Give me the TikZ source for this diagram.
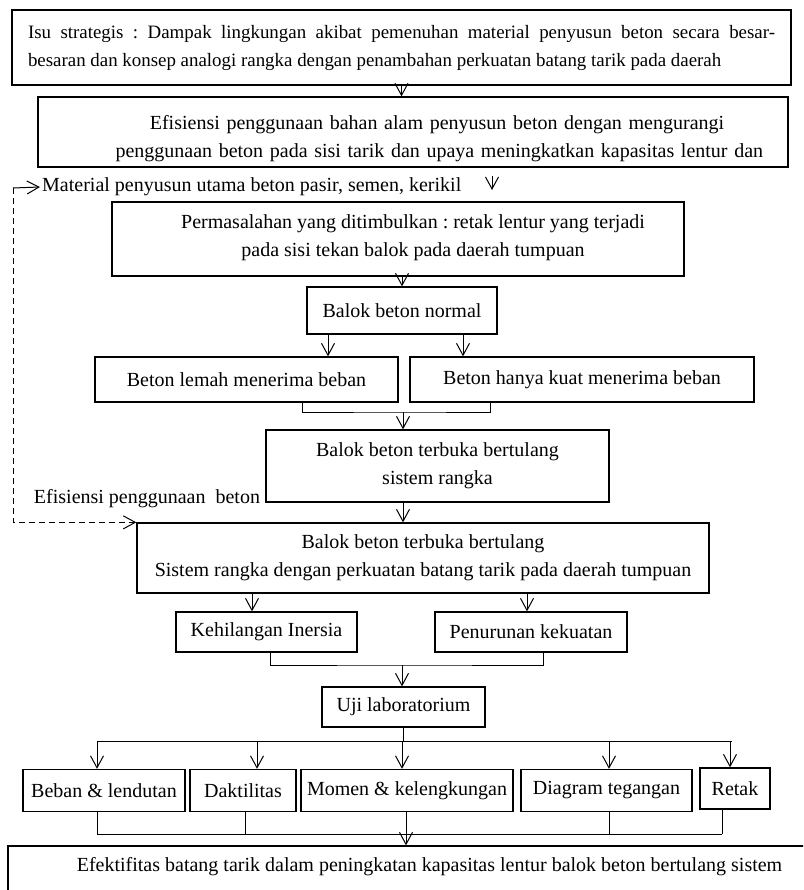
\documentclass[tikz,border=0pt]{standalone}
\usepackage{fontspec}
\setmainfont{Liberation Serif}
\setlength{\parindent}{0pt}
\frenchspacing
\usetikzlibrary{arrows.meta}
\tikzset{
  kotak/.style={draw, line width=1.3pt, inner sep=0pt},
  panah/.style={-{Straight Barb[length=12pt,width=13pt]}, line width=1pt},
  garis/.style={line width=1pt},
  putus/.style={dash pattern=on 6pt off 4pt}
}
\begin{document}
\begin{tikzpicture}[x=1pt, y=-1pt, font=\fontsize{20}{28}\selectfont]
    \useasboundingbox (0,0) rectangle (803,890);
    \clip (0,0) rectangle (803,890);
    \node[kotak, minimum width=779pt, minimum height=75pt, text width=747pt, inner xsep=16pt, align=justify, font=\fontsize{18.9}{28}\selectfont] (isu) at (401.5,47.5){Isu strategis : Dampak lingkungan akibat pemenuhan material penyusun beton secara besar-\linebreak besaran dan konsep analogi rangka dengan penambahan perkuatan batang tarik pada daerah};
    \node[kotak, minimum width=750pt, minimum height=70pt] (efisiensi) at (413,132){};
    \begin{scope}
      \clip (efisiensi.north west) rectangle (efisiensi.south east);
      \node[text width=643pt, align=center] (efisiensiTxt) at (437,139){Efisiensi penggunaan bahan alam penyusun beton dengan mengurangi\\\makebox[643pt][s]{penggunaan beton pada sisi tarik dan upaya meningkatkan kapasitas lentur dan}};
    \end{scope}
    \draw[panah](isu.south) -- (isu.south |- efisiensi.north);
    \node[anchor=west, inner sep=2pt] (material) at (40,187){Material penyusun utama beton pasir, semen, kerikil};
    \coordinate (vAtas) at (492,176);
    \coordinate (vUjung) at (492,190);
    \draw[panah](vAtas) -- (vUjung);
    \node[kotak, minimum width=572pt, minimum height=74pt] (masalah) at (398,239){};
    \node[align=center] (masalahTxt) at (413,238){Permasalahan yang ditimbulkan : retak lentur yang terjadi\\pada sisi tekan balok pada daerah tumpuan};
    \node[kotak, minimum width=190pt, minimum height=47pt] (normal) at (402,310.5){Balok beton normal};
    \draw[panah](normal.north |- masalah.south) -- (normal.north);
    \node[kotak, minimum width=303pt, minimum height=45pt] (lemah) at (246.5,379.5){Beton lemah menerima beban};
    \node[kotak, minimum width=344pt, minimum height=45pt] (kuat) at (582,379.5){Beton hanya kuat menerima beban};
    \coordinate (cabang1) at ([xshift=-74pt]normal.south);
    \coordinate (cabang2) at ([xshift=61pt]normal.south);
    \draw[panah](cabang1) -- (cabang1 |- lemah.north);
    \draw[panah](cabang2) -- (cabang2 |- kuat.north);
    \node[kotak, minimum width=343pt, minimum height=72pt, align=center] (rangka1) at (437.5,466){Balok beton terbuka bertulang\\sistem rangka};
    \coordinate (temu1) at (403,412);
    \draw[garis]([xshift=55.5pt]lemah.south) |- (temu1) -| ([xshift=-92pt]kuat.south);
    \draw[panah](temu1) -- (temu1 |- rangka1.north);
    \node[kotak, minimum width=572pt, minimum height=70pt, align=center] (rangka2) at (423,558){Balok beton terbuka bertulang\\Sistem rangka dengan perkuatan batang tarik pada daerah tumpuan};
    \draw[panah](temu1 |- rangka1.south) -- (temu1 |- rangka2.north);
    \node (efbeton) at (147,499){Efisiensi penggunaan\ \ beton};
    \coordinate (putar) at (13,188);
    \draw[panah](putar) -- (material.west);
    \draw[panah, putus](putar) |- (rangka2.north west);
    \node[kotak, minimum width=181pt, minimum height=40pt] (inersia) at (266.5,632){Kehilangan Inersia};
    \node[kotak, minimum width=192pt, minimum height=40pt] (kekuatan) at (531,632){Penurunan kekuatan};
    \coordinate (cabang3) at ([xshift=-14.5pt]inersia.north);
    \coordinate (cabang4) at ([xshift=-4pt]kekuatan.north);
    \draw[panah](cabang3 |- rangka2.south) -- (cabang3);
    \draw[panah](cabang4 |- rangka2.south) -- (cabang4);
    \node[kotak, minimum width=163pt, minimum height=40pt] (uji) at (403.5,707){Uji laboratorium};
    \coordinate (temu2) at (402,665);
    \draw[garis]([xshift=3.5pt]inersia.south) |- (temu2) -| ([xshift=12pt]kekuatan.south);
    \draw[panah](temu2) -- (temu2 |- uji.north);
    \node[kotak, minimum width=162pt, minimum height=42pt] (beban) at (104,790.5){Beban \& lendutan};
    \node[kotak, minimum width=106pt, minimum height=42pt] (daktil) at (243,790.5){Daktilitas};
    \node[kotak, minimum width=212pt, minimum height=42pt] (momen) at (407,790.5){Momen \& kelengkungan};
    \node[kotak, minimum width=171pt, minimum height=42pt] (diagram) at (606.5,790.5){Diagram tegangan};
    \node[kotak, minimum width=70pt, minimum height=41pt] (retak) at (735,788.5){Retak};
    \node[kotak, minimum width=807pt, minimum height=54pt] (efektif) at (411.5,873){};
    \node (efektifTxt) at (429.5,867){Efektifitas batang tarik dalam peningkatan kapasitas lentur balok beton bertulang sistem};
    \coordinate (temu3) at (403,741);
    \draw[garis](uji.south) -- (uji.south |- temu3);
    \foreach \x/\n in {97/beban,257/daktil,402/momen,609/diagram,730/retak}{
      \coordinate (t\n) at (\x,741);
      \draw[panah](t\n) -- (t\n |- \n.north);
    }
    \draw[garis](tbeban) -- ([xshift=2pt]tretak);
    \foreach \x/\n in {97/beban,245/daktil,406/momen,609/diagram,722/retak}{
      \coordinate (b\n) at (\x,834);
      \draw[garis](b\n |- \n.south) -- (b\n);
    }
    \draw[garis](bbeban) -- (bretak);
    \draw[panah](bmomen) -- (bmomen |- efektif.north);
\end{tikzpicture}
\end{document}
